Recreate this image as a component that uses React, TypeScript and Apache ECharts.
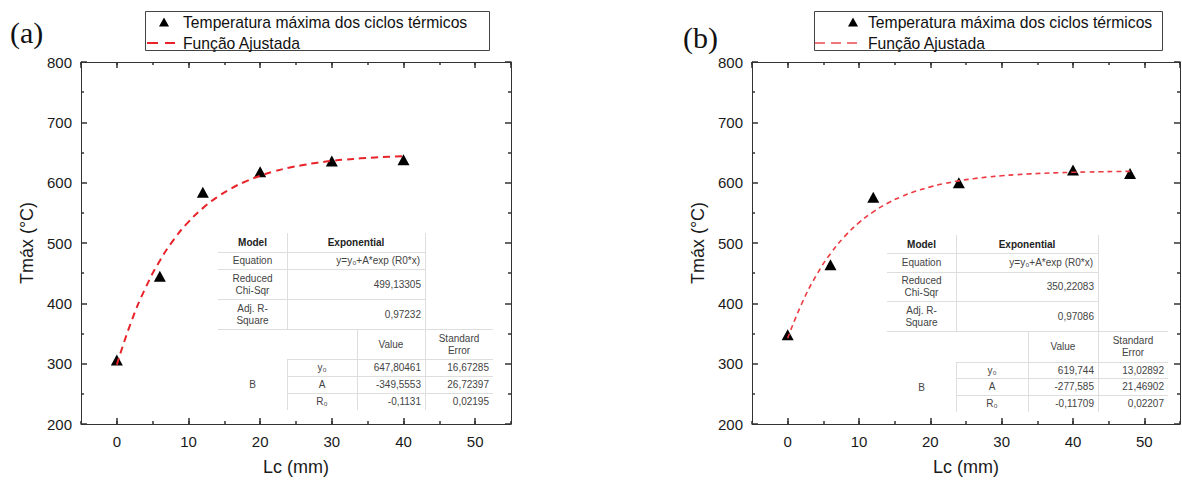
import React, { useEffect, useRef } from 'react';
import * as echarts from 'echarts';

// ---------- data ----------
const SERIES_POINTS = 'Temperatura máxima dos ciclos térmicos';
const SERIES_FIT = 'Função Ajustada';

const lcA = [0, 6, 12, 20, 30, 40];
const tmaxA = [306, 445, 584, 618, 636, 638];
const lcB = [0, 6, 12, 24, 40, 48];
const tmaxB = [348, 464, 576, 600, 621, 615];

// fitted curve
const fitLcA = [0, 2, 4, 6, 8, 10, 12, 14, 16, 18, 20, 22, 24, 26, 28, 30, 32, 34, 36, 38, 40];
const fitTA = [298.2, 369.0, 425.5, 470.5, 506.4, 535.0, 557.8, 576.0, 590.6, 602.2, 611.4, 618.8, 624.7, 629.3, 633.1, 636.1, 638.4, 640.3, 641.8, 643.0, 644.0];
const fitLcB = [0, 2, 4, 6, 8, 10, 12, 14, 16, 18, 20, 22, 24, 26, 28, 30, 32, 34, 36, 38, 40, 42, 44, 46, 48];
const fitTB = [342.2, 400.1, 446.0, 482.3, 511.0, 533.7, 551.6, 565.9, 577.1, 586.0, 593.0, 598.6, 603.0, 606.5, 609.3, 611.5, 613.2, 614.6, 615.6, 616.5, 617.2, 617.7, 618.1, 618.5, 618.7];

const xRange = [-5, 55];
const yRange = [200, 800];
const yStep = 100;
const xMinorStep = 5;

const panelLabels = ['(a)', '(b)'];
const xTitle = 'Lc (mm)';
const yTitle = 'Tmáx (°C)';

// fit tables
const rowLabels = ['Model', 'Equation', 'Reduced\nChi-Sqr', 'Adj. R-\nSquare'];
const modelName = 'Exponential';
const equationText = 'y=y₀+A*exp (R0*x)';
const headerLabels = ['Value', 'Standard\nError'];
const groupLabel = 'B';
const paramNames = ['y₀', 'A', 'R₀'];
const chiA = '499,13305';
const r2A = '0,97232';
const valuesA = ['647,80461', '-349,5553', '-0,1131'];
const errorsA = ['16,67285', '26,72397', '0,02195'];
const chiB = '350,22083';
const r2B = '0,97086';
const valuesB = ['619,744', '-277,585', '-0,11709'];
const errorsB = ['13,02892', '21,46902', '0,02207'];

// ---------- layout ----------
const FONT = '"Liberation Sans", Arial, sans-serif';
const SERIF = '"Liberation Serif", "Times New Roman", serif';
const grids = [
  { left: 81, top: 62, width: 430, height: 363 },
  { left: 752, top: 62, width: 428, height: 363 },
];
const tableGeom = [
  { cols: [218, 287, 357, 425, 493], rows: [233, 252, 269, 299, 329, 359, 376, 393, 410] },
  { cols: [887, 956, 1028, 1098, 1168], rows: [235, 253, 272, 301, 331, 362, 378, 395, 412] },
];
const lineStyles = [
  { color: '#e8232a', width: 2, type: [7, 5] },
  { color: '#ec3a40', width: 1.6, type: [5, 4] },
];
const legendGeom = [
  { box: [145, 11, 489, 50], tri: 164, text: 183, line: [147, 175], dash: [11, 7], width: 2, color: '#e8232a' },
  { box: [814, 11, 1162, 50], tri: 853, text: 868, line: [815, 863], dash: [10, 6], width: 1.5, color: '#ec4a50' },
];
const panelLabelPos = [[10, 32], [683, 37]];

function zip(xs: number[], ys: number[]) {
  return xs.map((x, i) => [x, ys[i]]);
}

function makeLegend(g: any) {
  const [x1, y1, x2, y2] = g.box;
  const r1 = 22;
  const r2 = 43;
  const els: any[] = [];
  els.push({ type: 'rect', shape: { x: x1 + 0.5, y: y1 + 0.5, width: x2 - x1, height: y2 - y1 }, style: { fill: '#fff', stroke: '#444', lineWidth: 1 }, z: 5 });
  els.push({ type: 'polygon', shape: { points: [[g.tri - 5, r1 + 4.5], [g.tri + 5, r1 + 4.5], [g.tri, r1 - 4.5]] }, style: { fill: '#000' }, z: 6 });
  els.push({ type: 'line', shape: { x1: g.line[0], y1: r2, x2: g.line[1], y2: r2 }, style: { stroke: g.color, lineWidth: g.width, lineDash: g.dash }, z: 6 });
  const t = (text: string, y: number) => ({
    type: 'text', x: g.text, y, z: 6,
    style: { text, fontSize: 15.7, fontFamily: FONT, fill: '#111', align: 'left', verticalAlign: 'middle' },
  });
  els.push(t(SERIES_POINTS, r1));
  els.push(t(SERIES_FIT, r2));
  return els;
}

function makeTable(g: { cols: number[]; rows: number[] }, chi: string, r2: string, values: string[], errors: string[]) {
  const { cols: c, rows: r } = g;
  const els: any[] = [];
  const lineColor = '#dedede';
  els.push({ type: 'rect', shape: { x: c[0], y: r[0], width: c[4] - c[0], height: r[8] - r[0] }, style: { fill: '#ffffff' }, z: 1 });
  const hl = (y: number, x1: number, x2: number) =>
    els.push({ type: 'line', shape: { x1, y1: y + 0.5, x2, y2: y + 0.5 }, style: { stroke: lineColor, lineWidth: 1 }, z: 2 });
  const vl = (x: number, y1: number, y2: number) =>
    els.push({ type: 'line', shape: { x1: x + 0.5, y1, x2: x + 0.5, y2 }, style: { stroke: lineColor, lineWidth: 1 }, z: 2 });
  for (let i = 1; i <= 3; i++) hl(r[i], c[0], c[3]);
  hl(r[4], c[0], c[4]);
  for (let i = 5; i <= 7; i++) hl(r[i], c[1], c[4]);
  vl(c[1], r[0], r[4]);
  vl(c[1], r[5], r[8]);
  vl(c[2], r[4], r[8]);
  vl(c[3], r[0], r[8]);
  const txt = (text: string, x: number, y: number, align: string, bold = false) =>
    els.push({
      type: 'text', x, y, z: 3,
      style: { text, fill: bold ? '#222' : '#444', fontSize: 10, fontFamily: FONT, fontWeight: bold ? 'bold' : 'normal', align, verticalAlign: 'middle', lineHeight: 12 },
    });
  const mid = (i: number) => (r[i] + r[i + 1]) / 2;
  const cmid = (i: number) => (c[i] + c[i + 1]) / 2;
  txt(rowLabels[0], cmid(0), mid(0), 'center', true);
  txt(modelName, (c[1] + c[3]) / 2, mid(0), 'center', true);
  txt(rowLabels[1], cmid(0), mid(1), 'center');
  txt(equationText, c[3] - 5, mid(1), 'right');
  txt(rowLabels[2], cmid(0), mid(2), 'center');
  txt(chi, c[3] - 4, mid(2), 'right');
  txt(rowLabels[3], cmid(0), mid(3), 'center');
  txt(r2, c[3] - 4, mid(3), 'right');
  txt(headerLabels[0], cmid(2), mid(4), 'center');
  txt(headerLabels[1], cmid(3), mid(4), 'center');
  txt(groupLabel, cmid(0), (r[5] + r[8]) / 2, 'center');
  for (let i = 0; i < 3; i++) {
    txt(paramNames[i], cmid(1), mid(5 + i), 'center');
    txt(values[i], c[3] - 4, mid(5 + i), 'right');
    txt(errors[i], c[4] - 4, mid(5 + i), 'right');
  }
  return els;
}

function xAxes(gi: number) {
  const common = {
    gridIndex: gi, type: 'value', min: xRange[0], max: xRange[1],
    splitLine: { show: false },
  };
  const major = (position: string, labels: boolean) => ({
    ...common, position,
    axisLine: { show: true, onZero: false, lineStyle: { color: '#333', width: 1 } },
    axisTick: { show: true, inside: true, length: 6, lineStyle: { color: '#333', width: 1.5 } },
    axisLabel: labels
      ? { show: true, showMinLabel: false, showMaxLabel: false, fontSize: 15, color: '#1a1a1a', fontFamily: FONT, margin: 10, formatter: (v: number) => String(Math.round(v) || 0) }
      : { show: false },
    name: labels ? xTitle : '',
    nameLocation: 'middle', nameGap: 34,
    nameTextStyle: { fontSize: 18, color: '#1a1a1a', fontFamily: FONT },
  });
  const minor = (position: string) => ({
    ...common, position, interval: xMinorStep,
    axisLine: { show: false, onZero: false },
    axisTick: { show: true, inside: true, length: 3, lineStyle: { color: '#333', width: 1.5 } },
    axisLabel: { show: false },
  });
  return [major('bottom', true), minor('bottom'), major('top', false), minor('top')];
}

function yAxes(gi: number) {
  const mk = (position: string, labels: boolean) => ({
    gridIndex: gi, type: 'value', min: yRange[0], max: yRange[1], interval: yStep, position,
    splitLine: { show: false },
    axisLine: { show: true, onZero: false, lineStyle: { color: '#333', width: 1 } },
    axisTick: { show: true, inside: true, length: 6, lineStyle: { color: '#333', width: 1.5 } },
    minorTick: { show: true, splitNumber: 2, length: 3, lineStyle: { color: '#333', width: 1.5 } },
    axisLabel: labels ? { show: true, fontSize: 15, color: '#1a1a1a', fontFamily: FONT, margin: 9 } : { show: false },
    name: labels ? yTitle : '',
    nameLocation: 'middle', nameGap: 45,
    nameTextStyle: { fontSize: 18, color: '#1a1a1a', fontFamily: FONT },
  });
  return [mk('left', true), mk('right', false)];
}

export default function App() {
  const ref = useRef<HTMLDivElement>(null);
  useEffect(() => {
    if (!ref.current) return;
    const chart = echarts.init(ref.current, undefined, { renderer: 'svg' });
    const scatter = (xi: number, yi: number, xs: number[], ys: number[]) => ({
      name: SERIES_POINTS, type: 'scatter', xAxisIndex: xi, yAxisIndex: yi,
      symbol: 'triangle', symbolSize: [12, 11], itemStyle: { color: '#000', opacity: 1 }, data: zip(xs, ys), z: 3,
    });
    const fit = (xi: number, yi: number, xs: number[], ys: number[], ls: any) => ({
      name: SERIES_FIT, type: 'line', xAxisIndex: xi, yAxisIndex: yi, smooth: true,
      symbol: 'none', showSymbol: false, lineStyle: ls, itemStyle: { color: ls.color }, data: zip(xs, ys), z: 4,
    });
    const labelText = (i: number) => ({
      type: 'text', x: panelLabelPos[i][0], y: panelLabelPos[i][1],
      style: { text: panelLabels[i], fontSize: 30, fontFamily: SERIF, fill: '#111', align: 'left', verticalAlign: 'middle' },
    });
    chart.setOption({
      animation: false,
      backgroundColor: '#ffffff',
      grid: grids,
      xAxis: [...xAxes(0), ...xAxes(1)],
      yAxis: [...yAxes(0), ...yAxes(1)],
      series: [
        scatter(0, 0, lcA, tmaxA),
        fit(0, 0, fitLcA, fitTA, lineStyles[0]),
        scatter(4, 2, lcB, tmaxB),
        fit(4, 2, fitLcB, fitTB, lineStyles[1]),
      ],
      graphic: [
        labelText(0),
        labelText(1),
        ...makeLegend(legendGeom[0]),
        ...makeLegend(legendGeom[1]),
        ...makeTable(tableGeom[0], chiA, r2A, valuesA, errorsA),
        ...makeTable(tableGeom[1], chiB, r2B, valuesB, errorsB),
      ],
    });
    return () => chart.dispose();
  }, []);
  return <div ref={ref} style={{ position: 'fixed', left: 0, top: 0, width: 1182, height: 481 }} />;
}
